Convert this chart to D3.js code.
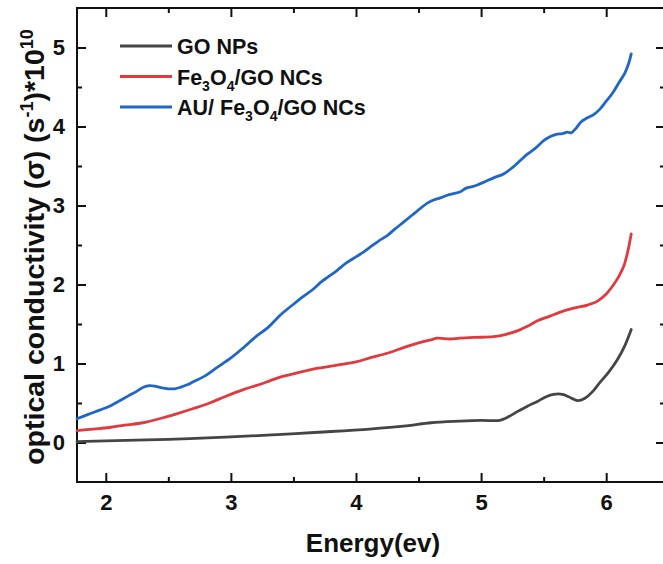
<!DOCTYPE html>
<html><head><meta charset="utf-8">
<script src="https://cdn.jsdelivr.net/npm/d3@7"></script>
<style>body{margin:0;background:#fff}svg{display:block}text{font-family:"Liberation Sans",Arial,sans-serif;font-weight:bold;fill:#111}</style>
</head><body><svg id="c" width="663" height="564"></svg>
<script>
const seriesNames = ["GO NPs", "Fe3O4/GO NCs", "AU/ Fe3O4/GO NCs"];
const seriesColors = ["#454545", "#e03a3e", "#1f66c9"];
const goEnergy = [1.77,2.00,2.50,3.00,3.37,3.70,4.11,4.40,4.60,4.83,5.00,5.15,5.20,5.30,5.37,5.45,5.52,5.58,5.65,5.70,5.77,5.83,5.90,5.95,6.02,6.09,6.15,6.20];
const goValues = [0.01,0.02,0.04,0.07,0.10,0.13,0.17,0.21,0.25,0.27,0.28,0.28,0.31,0.40,0.46,0.52,0.58,0.61,0.61,0.58,0.53,0.56,0.66,0.76,0.89,1.05,1.23,1.43];
const feEnergy = [1.77,1.90,2.03,2.15,2.30,2.45,2.56,2.70,2.83,2.95,3.10,3.20,3.31,3.40,3.50,3.58,3.70,3.85,4.00,4.11,4.25,4.38,4.50,4.60,4.65,4.75,4.83,4.95,5.10,5.20,5.30,5.37,5.45,5.55,5.65,5.74,5.85,5.93,6.00,6.06,6.10,6.14,6.17,6.20];
const feValues = [0.15,0.17,0.19,0.22,0.25,0.31,0.36,0.43,0.50,0.58,0.67,0.72,0.78,0.83,0.87,0.90,0.94,0.98,1.02,1.07,1.13,1.20,1.26,1.30,1.32,1.31,1.32,1.33,1.34,1.37,1.42,1.47,1.54,1.60,1.66,1.70,1.74,1.79,1.88,2.00,2.10,2.23,2.40,2.64];
const auEnergy = [1.77,1.85,1.95,2.03,2.10,2.18,2.25,2.30,2.35,2.40,2.45,2.50,2.55,2.60,2.65,2.70,2.80,2.89,3.00,3.10,3.20,3.30,3.40,3.50,3.58,3.65,3.72,3.78,3.85,3.92,4.00,4.05,4.11,4.18,4.25,4.31,4.38,4.45,4.52,4.57,4.62,4.68,4.73,4.78,4.83,4.88,4.93,4.97,5.03,5.10,5.18,5.25,5.32,5.37,5.43,5.50,5.55,5.60,5.65,5.69,5.72,5.76,5.80,5.85,5.90,5.95,6.00,6.05,6.10,6.15,6.18,6.20];
const auValues = [0.30,0.35,0.41,0.46,0.52,0.59,0.65,0.70,0.72,0.71,0.69,0.68,0.68,0.70,0.73,0.77,0.85,0.95,1.07,1.20,1.34,1.46,1.62,1.75,1.85,1.93,2.03,2.10,2.18,2.27,2.35,2.40,2.47,2.55,2.62,2.70,2.79,2.88,2.97,3.03,3.07,3.10,3.13,3.15,3.17,3.22,3.24,3.26,3.30,3.35,3.40,3.48,3.58,3.65,3.72,3.82,3.87,3.90,3.91,3.93,3.92,3.98,4.06,4.11,4.15,4.22,4.32,4.42,4.55,4.68,4.80,4.92];
const xTicks = [2,3,4,5,6];
const yTicks = [0,1,2,3,4,5];

const series = [
  {name: seriesNames[0], color: seriesColors[0], pts: goEnergy.map((e,i)=>[e, goValues[i]])},
  {name: seriesNames[1], color: seriesColors[1], pts: feEnergy.map((e,i)=>[e, feValues[i]])},
  {name: seriesNames[2], color: seriesColors[2], pts: auEnergy.map((e,i)=>[e, auValues[i]])}
];

const svg = d3.select("#c");
const L = 77, R = 665, T = 8, B = 482;
const x = d3.scaleLinear().domain([1.77, 6.47]).range([L, R]);
const y = d3.scaleLinear().domain([-0.5, 5.5]).range([B, T]);

const minorX = d3.range(1.5, 7, 0.5).filter(v => !xTicks.includes(v) && v > 1.77 && v < 6.47);
const minorY = d3.range(-0.5, 5.6, 0.5).filter(v => !yTicks.includes(v) && v > -0.5 && v < 5.5);

svg.append("rect").attr("x", L).attr("y", T).attr("width", R - L).attr("height", B - T)
  .attr("fill", "none").attr("stroke", "#111").attr("stroke-width", 2);

function axisBlock(axisGen, tx, ty, showLabels) {
  const g = svg.append("g").attr("transform", `translate(${tx},${ty})`).call(axisGen);
  g.select(".domain").remove();
  g.selectAll(".tick line").attr("stroke", "#111").attr("stroke-width", 2);
  if (!showLabels) g.selectAll(".tick text").remove();
  return g;
}
const gb = axisBlock(d3.axisBottom(x).tickValues(xTicks).tickSize(-9).tickPadding(12).tickFormat(d3.format("d")), 0, B, true);
gb.selectAll(".tick text").attr("font-size", 22).attr("fill", "#111");
axisBlock(d3.axisBottom(x).tickValues(minorX).tickSize(-5), 0, B, false);
axisBlock(d3.axisTop(x).tickValues(xTicks).tickSize(-9), 0, T, false);
axisBlock(d3.axisTop(x).tickValues(minorX).tickSize(-5), 0, T, false);
const gl = axisBlock(d3.axisLeft(y).tickValues(yTicks).tickSize(-9).tickPadding(12).tickFormat(d3.format("d")), L, 0, true);
gl.selectAll(".tick text").attr("font-size", 22).attr("fill", "#111");
axisBlock(d3.axisLeft(y).tickValues(minorY).tickSize(-5), L, 0, false);
axisBlock(d3.axisRight(y).tickValues(yTicks).tickSize(-9), R, 0, false);
axisBlock(d3.axisRight(y).tickValues(minorY).tickSize(-5), R, 0, false);

const line = d3.line().x(d => x(d[0])).y(d => y(d[1])).curve(d3.curveCatmullRom);
svg.append("g").selectAll("path").data(series).join("path")
  .attr("d", d => line(d.pts)).attr("fill", "none").attr("stroke", d => d.color)
  .attr("stroke-width", 2.8).attr("stroke-linejoin", "round").attr("stroke-linecap", "round");

const leg = svg.append("g");
series.forEach((s, i) => {
  const ly = 46 + i * 30.5;
  leg.append("line").attr("x1", 120).attr("x2", 172).attr("y1", ly).attr("y2", ly)
    .attr("stroke", s.color).attr("stroke-width", 3);
  const t = leg.append("text").attr("x", 177).attr("y", ly + 8).attr("font-size", 21.5);
  const parts = s.name.split(/(\d)/).filter(p => p !== "");
  let shift = 0;
  parts.forEach(p => {
    const isSub = /^\d$/.test(p);
    const target = isSub ? 6 : 0;
    const ts = t.append("tspan").attr("dy", target - shift).text(p);
    if (isSub) ts.attr("font-size", 14);
    shift = target;
  });
});

svg.append("text").attr("x", 373).attr("y", 552).attr("text-anchor", "middle")
  .attr("font-size", 26).text("Energy(ev)");
const yt = svg.append("text").attr("transform", `translate(44,247) rotate(-90)`)
  .attr("text-anchor", "middle").attr("font-size", 28.5);
yt.append("tspan").text("optical conductivity (σ) (s");
yt.append("tspan").attr("font-size", 18).attr("dy", -11).text("-1");
yt.append("tspan").attr("dy", 11).text(")*10");
yt.append("tspan").attr("font-size", 18).attr("dy", -11).text("10");
</script></body></html>
